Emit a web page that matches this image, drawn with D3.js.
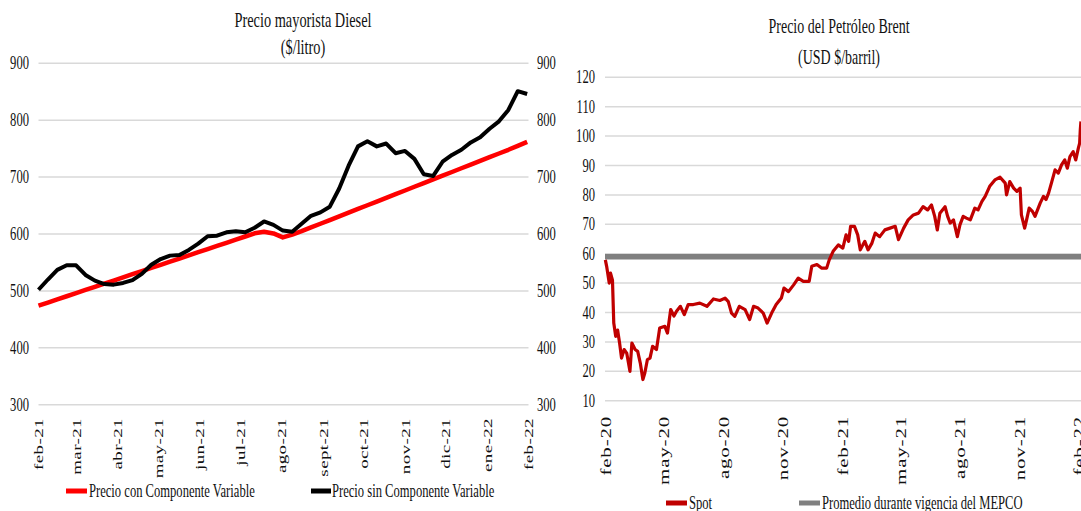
<!DOCTYPE html>
<html><head><meta charset="utf-8">
<script src="https://cdn.jsdelivr.net/npm/d3@7"></script>
<style>
html,body{margin:0;padding:0;background:#fff;}
text{font-family:"Liberation Serif","Times New Roman",serif;fill:#111;}
</style></head>
<body>
<script>
// ---------- DATA ----------
const leftTitle = ["Precio mayorista Diesel", "($/litro)"];
const rightTitle = ["Precio del Petróleo Brent", "(USD $/barril)"];
const leftTickLabels = ["feb-21","mar-21","abr-21","may-21","jun-21","jul-21","ago-21","sept-21","oct-21","nov-21","dic-21","ene-22","feb-22"];
const leftYTicks = [300,400,500,600,700,800,900];
const leftSeriesNames = ["Precio con Componente Variable","Precio sin Componente Variable"];
// weekly values, feb-21 .. feb-22
const precioConComponente = [474,479.5,485,490.6,496.1,501.6,507.2,512.7,518.2,523.7,529.3,534.8,540.3,545.9,551.4,556.9,562.4,568,573.5,579,584.6,590.1,595.6,601.2,604,601,594,599,605,611.5,618,624.5,631,637.5,644,650.5,657,663.5,670,676.5,683,689.5,696,702.5,709,715.5,722,728.5,735,741.5,748,755,762];
const precioSinComponente = [502,520,537,545,545,528,518,512,511,514,519,530,546,556,562,563,572,583,596,597,603,605,603,611,622,616,606,604,618,632,638,648,680,720,754,763,754,759,742,746,732,705,702,727,739,748,761,770,785,798,818,851,846];

const rightTickLabels = ["feb-20","may-20","ago-20","nov-20","feb-21","may-21","ago-21","nov-21","feb-22"];
const rightYTicks = [10,20,30,40,50,60,70,80,90,100,110,120];
const rightSeriesNames = ["Spot","Promedio durante vigencia del MEPCO"];
const brentDates = ["2020-01-31","2020-02-02","2020-02-06","2020-02-08","2020-02-11","2020-02-13","2020-02-16","2020-02-19","2020-02-22","2020-02-25","2020-02-29","2020-03-04","2020-03-09","2020-03-12","2020-03-17","2020-03-21","2020-03-25","2020-03-29","2020-04-01","2020-04-05","2020-04-09","2020-04-13","2020-04-19","2020-04-24","2020-05-02","2020-05-06","2020-05-11","2020-05-16","2020-05-20","2020-05-26","2020-06-01","2020-06-07","2020-06-15","2020-06-25","2020-07-06","2020-07-16","2020-07-26","2020-08-03","2020-08-08","2020-08-13","2020-08-18","2020-08-25","2020-09-03","2020-09-10","2020-09-16","2020-09-23","2020-10-01","2020-10-07","2020-10-14","2020-10-21","2020-10-29","2020-11-02","2020-11-09","2020-11-17","2020-11-24","2020-12-02","2020-12-11","2020-12-15","2020-12-23","2020-12-30","2021-01-07","2021-01-11","2021-01-17","2021-01-25","2021-02-01","2021-02-06","2021-02-10","2021-02-13","2021-02-19","2021-02-24","2021-02-28","2021-03-04","2021-03-07","2021-03-12","2021-03-18","2021-03-23","2021-03-30","2021-04-07","2021-04-15","2021-04-23","2021-04-28","2021-05-06","2021-05-13","2021-05-21","2021-05-29","2021-06-05","2021-06-12","2021-06-18","2021-06-23","2021-06-27","2021-07-01","2021-07-09","2021-07-13","2021-07-17","2021-07-22","2021-07-28","2021-08-01","2021-08-06","2021-08-11","2021-08-17","2021-08-24","2021-08-29","2021-09-04","2021-09-09","2021-09-16","2021-09-24","2021-10-02","2021-10-10","2021-10-12","2021-10-17","2021-10-23","2021-10-28","2021-11-02","2021-11-04","2021-11-09","2021-11-12","2021-11-16","2021-11-21","2021-11-25","2021-12-03","2021-12-08","2021-12-12","2021-12-16","2021-12-21","2021-12-26","2021-12-31","2022-01-05","2022-01-10","2022-01-14","2022-01-18","2022-01-23","2022-01-27","2022-01-31","2022-02-02","2022-02-03","2022-02-04"];
const brentSpot = [57.9,55.7,50,53.4,51,36.4,31.9,34,29.6,24.5,27.4,26.2,20,29.6,27.4,26.8,22.8,17.2,19.4,24,24.5,28.5,27.4,34.7,35.3,33,41,38.8,40.4,42.1,39.3,42.7,42.7,43.2,42.1,44.6,44.1,44.9,43.7,39.8,38.7,42.1,41,37.6,42.1,41.5,39.8,36.4,39.8,42.7,44.9,48.3,47.1,49.4,51.7,50.6,50.6,55.7,56.3,55.1,55.1,57.9,60.8,63,61.9,66.4,64.2,69.3,69.3,66.4,61.3,63,64.2,61.3,63.6,67,65.8,68.1,68.7,69.3,64.8,68.7,71.5,73.2,73.8,76,74.9,76.6,72.7,68.1,73.8,76,72.7,70.4,71.5,65.8,69.8,72.7,72.1,71.5,75.5,74.9,77.8,79.5,82.9,85.1,86,84,80,84.5,82.3,81.2,82.3,73.2,68.7,71.5,75.5,74.4,72.7,77.2,79.5,78.4,80.6,84.5,88.5,87.4,90.2,91.9,89.1,93,94.7,91.9,95.9,97.6,102.1,105];
const mepcoAverage = 59;

// ---------- DRAW ----------
const SX = 0.7;
const svg = d3.select("body").append("svg").attr("width",1081).attr("height",511);

function htext(x, y, str, size, anchor){
  return svg.append("text")
    .attr("transform", `translate(${x},${y}) scale(${SX},1)`)
    .attr("text-anchor", anchor || "middle")
    .style("font-size", size + "px")
    .text(str);
}
function vtext(x, y, str, size, ls){
  return svg.append("text")
    .attr("transform", `translate(${x},${y}) scale(${SX},1) rotate(-90)`)
    .attr("text-anchor", "end")
    .attr("dy", "0.35em")
    .style("font-size", size + "px")
    .style("letter-spacing", (ls||0) + "px")
    .text(str);
}
const parse = d3.timeParse("%Y-%m-%d");

// ===== LEFT CHART =====
const xL = d3.scaleTime().domain([new Date(2021,1,1), new Date(2022,1,1)]).range([38.5, 528.5]);
const yL = d3.scaleLinear().domain([300,900]).range([404.7, 63.3]);
const weekStart = new Date(2021,1,1);
const leftDates = precioSinComponente.map((_, i) => d3.timeDay.offset(weekStart, 7*i));
const leftMonths = d3.timeMonth.range(new Date(2021,1,1), new Date(2022,1,2));

svg.append("g").selectAll("line").data(leftYTicks).join("line")
  .attr("x1", xL.range()[0]).attr("x2", xL.range()[1])
  .attr("y1", d => yL(d)).attr("y2", d => yL(d))
  .attr("stroke", "#d9d9d9").attr("stroke-width", 1.5);
leftYTicks.forEach(t => {
  htext(29, yL(t) + 6, t, 18, "end");
  htext(537, yL(t) + 6, t, 18, "start");
});
leftMonths.forEach((m, i) => vtext(xL(m), 418, leftTickLabels[i], 19, 0.4));

const lineL = d3.line().x((d, i) => xL(leftDates[i])).y(d => yL(d)).curve(d3.curveLinear);
svg.append("path").datum(precioConComponente).attr("d", lineL)
  .attr("fill","none").attr("stroke","#ff0000").attr("stroke-width",4.5).attr("stroke-linejoin","round");
svg.append("path").datum(precioSinComponente).attr("d", lineL)
  .attr("fill","none").attr("stroke","#000").attr("stroke-width",4).attr("stroke-linejoin","round");

htext(303, 27, leftTitle[0], 20.5);
htext(303, 54, leftTitle[1], 20.5);

// legend left
svg.append("line").attr("x1",66).attr("x2",87).attr("y1",491).attr("y2",491).attr("stroke","#ff0000").attr("stroke-width",5);
htext(89, 497, leftSeriesNames[0], 18, "start");
svg.append("line").attr("x1",311).attr("x2",331).attr("y1",491).attr("y2",491).attr("stroke","#000").attr("stroke-width",5);
htext(332, 497, leftSeriesNames[1], 18, "start");

// ===== RIGHT CHART =====
const xR = d3.scaleTime().domain([new Date(2020,1,1), new Date(2022,1,1)]).range([606, 1079]);
const yR = d3.scaleLinear().domain([10,120]).range([400.7, 77.3]);
const rightMonths = d3.timeMonth.range(new Date(2020,1,1), new Date(2022,1,2), 3);

svg.append("g").selectAll("line").data(rightYTicks).join("line")
  .attr("x1", 605).attr("x2", 1081)
  .attr("y1", d => yR(d)).attr("y2", d => yR(d))
  .attr("stroke", "#d9d9d9").attr("stroke-width", 1.5);
rightYTicks.forEach(t => htext(595, yR(t) + 6, t, 18, "end"));
rightMonths.forEach((m, i) => vtext(xR(m), 416, rightTickLabels[i], 21, 0.8));

svg.append("line").attr("x1", 605).attr("x2", 1081)
  .attr("y1", yR(mepcoAverage)).attr("y2", yR(mepcoAverage))
  .attr("stroke", "#808080").attr("stroke-width", 5.5);

const lineR = d3.line().x((d, i) => xR(parse(brentDates[i]))).y(d => yR(d));
svg.append("path").datum(brentSpot).attr("d", lineR)
  .attr("fill","none").attr("stroke","#c00000").attr("stroke-width",3.2).attr("stroke-linejoin","round");

htext(839, 33, rightTitle[0], 20);
htext(839, 64, rightTitle[1], 20);

svg.append("line").attr("x1",666).attr("x2",687).attr("y1",503).attr("y2",503).attr("stroke","#c00000").attr("stroke-width",5);
htext(689, 509, rightSeriesNames[0], 18, "start");
svg.append("line").attr("x1",799).attr("x2",820).attr("y1",503).attr("y2",503).attr("stroke","#808080").attr("stroke-width",5);
htext(822, 509, rightSeriesNames[1], 18, "start");
</script>
</body></html>
